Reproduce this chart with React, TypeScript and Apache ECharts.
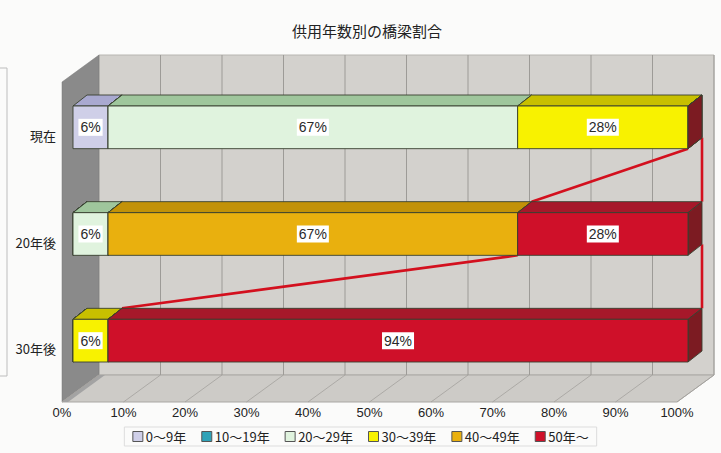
import { useEffect, useRef } from 'react';
import * as echarts from 'echarts';

// ---- data ----
const chartTitle = '供用年数別の橋梁割合';
const categories = ['現在', '20年後', '30年後'];
const ageGroups = ['0～9年', '10～19年', '20～29年', '30～39年', '40～49年', '50年～'];
const age0to9 = [5.7, 0, 0];
const age10to19 = [0, 0, 0];
const age20to29 = [66.6, 5.7, 0];
const age30to39 = [27.7, 0, 5.7];
const age40to49 = [0, 66.6, 0];
const age50plus = [0, 27.7, 94.3];
const xTicks = [0, 10, 20, 30, 40, 50, 60, 70, 80, 90, 100];

const groupValues = [age0to9, age10to19, age20to29, age30to39, age40to49, age50plus];

// face colours per age group: front, top, right side
const palette = [
  { front: '#cfcfe8', top: '#a9a9d0', side: '#8a8ab0' },
  { front: '#2fa3b8', top: '#237f90', side: '#1a6070' },
  { front: '#e0f3de', top: '#9fc69c', side: '#7fa07d' },
  { front: '#f8f200', top: '#c8c000', side: '#9a9400' },
  { front: '#e9b00e', top: '#c29208', side: '#8f6c06' },
  { front: '#cf1029', top: '#a6182a', side: '#7c1b22' },
];

// pseudo-3D geometry (pixels)
const BOX_DEPTH = [37, -27];
const BAR_OFFSET = [11, -8];
const BAR_DEPTH = [14, -11];
const BAR_RATIO = 0.4;
const EDGE = '#38402f';
const SERIES_LINE = '#d3101e';

const NUM_FONT = '"Liberation Sans Narrow", "Liberation Sans", sans-serif';
const JP_FONT = '"Noto Sans CJK JP", sans-serif';

// cumulative start of each group's segment per category
const starts: number[][] = groupValues.map((_, g) =>
  categories.map((__, c) => {
    let s = 0;
    for (let k = 0; k < g; k++) s += groupValues[k][c];
    return s;
  })
);

export default function App() {
  const ref = useRef<HTMLDivElement>(null);

  useEffect(() => {
    if (!ref.current) return;
    const chart = echarts.init(ref.current, null, { renderer: 'svg' });

    const barGeom = (api: any, value: number, cat: number) => {
      const p = api.coord([value, cat]);
      const band = api.size([0, 1])[1];
      const h = band * BAR_RATIO;
      const x = p[0] + BAR_OFFSET[0];
      const yc = p[1] + BAR_OFFSET[1];
      return { x, yc, y0: yc - h / 2, y1: yc + h / 2 };
    };

    // walls and floor of the plot box
    const frameSeries: any = {
      type: 'custom',
      name: 'frame',
      silent: true,
      z: 1,
      data: [[0, 0]],
      encode: { x: 0, y: 1 },
      renderItem: (params: any, api: any) => {
        const band = api.size([0, 1])[1];
        const top = api.coord([0, 0])[1] - band / 2;
        const bottom = api.coord([0, categories.length - 1])[1] + band / 2;
        const left = api.coord([0, 0])[0];
        const right = api.coord([100, 0])[0];
        const dx = BOX_DEPTH[0];
        const dy = BOX_DEPTH[1];
        const children: any[] = [];
        // back wall
        children.push({
          type: 'rect',
          shape: { x: left + dx, y: top + dy, width: right - left, height: bottom - top },
          style: { fill: '#d3d1cd', stroke: '#b8b6b2', lineWidth: 1 },
        });
        // left wall
        children.push({
          type: 'polygon',
          shape: { points: [[left, top], [left + dx, top + dy], [left + dx, bottom + dy], [left, bottom]] },
          style: { fill: '#8a8a8a', stroke: '#777', lineWidth: 0.5 },
        });
        // floor
        children.push({
          type: 'polygon',
          shape: { points: [[left, bottom], [right, bottom], [right + dx, bottom + dy], [left + dx, bottom + dy]] },
          style: { fill: '#cdcbc7', stroke: '#a9a7a3', lineWidth: 1 },
        });
        // floor strip along the left wall, slightly darker
        children.push({
          type: 'polygon',
          shape: { points: [[left, bottom], [left + dx, bottom + dy], [left + dx + 6, bottom + dy], [left + 6, bottom]] },
          style: { fill: '#a3a3a3' },
        });
        xTicks.forEach((t) => {
          const x = api.coord([t, 0])[0];
          if (t > 0) {
            children.push({
              type: 'line',
              shape: { x1: x + dx, y1: top + dy, x2: x + dx, y2: bottom + dy },
              style: { stroke: '#9d9b97', lineWidth: 1 },
            });
          }
          children.push({
            type: 'line',
            shape: { x1: x, y1: bottom, x2: x + dx, y2: bottom + dy },
            style: { stroke: '#a3a19d', lineWidth: 0.8 },
          });
        });
        return { type: 'group', children };
      },
    };

    // series lines for the oldest group: start boundary and end boundary
    const lastStarts = starts[5];
    const lineData: number[][] = [];
    for (let c = 0; c < categories.length - 1; c++) {
      lineData.push([lastStarts[c], c, lastStarts[c + 1], c + 1, 0]);
      lineData.push([
        lastStarts[c] + age50plus[c], c,
        lastStarts[c + 1] + age50plus[c + 1], c + 1, 1,
      ]);
    }
    const seriesLines: any = {
      type: 'custom',
      name: 'series-lines',
      silent: true,
      z: 2,
      data: lineData,
      encode: { x: [0, 2], y: [1, 3] },
      renderItem: (params: any, api: any) => {
        const a = barGeom(api, api.value(0), api.value(1));
        const b = barGeom(api, api.value(2), api.value(3));
        const mode = api.value(4);
        const x1 = mode === 0 ? a.x : a.x + BAR_DEPTH[0];
        const y1 = mode === 0 ? a.y1 : a.y1 + BAR_DEPTH[1];
        const x2 = b.x + BAR_DEPTH[0];
        const y2 = b.y0 + BAR_DEPTH[1];
        return {
          type: 'line',
          shape: { x1, y1, x2, y2 },
          style: { stroke: SERIES_LINE, lineWidth: 2.6 },
        };
      },
    };

    const barSeries = ageGroups.map((name, g) => ({
      type: 'custom',
      name,
      z: 3,
      itemStyle: { color: palette[g].front, borderColor: '#555', borderWidth: 1 },
      data: categories.map((_, c) => [starts[g][c], groupValues[g][c], c]),
      encode: { x: 0, y: 2 },
      renderItem: (params: any, api: any) => {
        const start = api.value(0);
        const val = api.value(1);
        const cat = api.value(2);
        const a = barGeom(api, start, cat);
        const b = barGeom(api, start + val, cat);
        const x0 = a.x;
        const x1 = b.x;
        const { y0, y1, yc } = a;
        const [dx, dy] = BAR_DEPTH;
        const col = palette[g];
        const children: any[] = [
          {
            type: 'polygon',
            shape: { points: [[x0, y0], [x1, y0], [x1 + dx, y0 + dy], [x0 + dx, y0 + dy]] },
            style: { fill: col.top, stroke: EDGE, lineWidth: 0.9 },
          },
          {
            type: 'polygon',
            shape: { points: [[x1, y0], [x1 + dx, y0 + dy], [x1 + dx, y1 + dy], [x1, y1]] },
            style: { fill: col.side, stroke: EDGE, lineWidth: 0.9 },
          },
        ];
        if (val > 0) {
          children.push({
            type: 'rect',
            shape: { x: x0, y: y0, width: x1 - x0, height: y1 - y0 },
            style: { fill: col.front, stroke: EDGE, lineWidth: 0.9 },
          });
          children.push({
            type: 'text',
            style: {
              text: Math.round(val) + '%',
              x: (x0 + x1) / 2,
              y: yc,
              align: 'center',
              verticalAlign: 'middle',
              fontSize: 14,
              fontFamily: NUM_FONT,
              fill: '#2a2a2a',
              backgroundColor: '#ffffff',
              padding: [2, 2, 1, 2],
            },
          });
        }
        return { type: 'group', children };
      },
    }));

    chart.setOption({
      animation: false,
      backgroundColor: '#fbfbfa',
      title: {
        text: chartTitle,
        left: 362,
        top: 18,
        textAlign: 'center',
        textStyle: { fontSize: 15, fontWeight: 'normal', color: '#222', fontFamily: JP_FONT },
      },
      grid: { left: 62, top: 82, width: 615, height: 320, containLabel: false },
      xAxis: {
        type: 'value',
        min: 0,
        max: 100,
        interval: 10,
        axisLine: { show: false },
        axisTick: { show: false },
        splitLine: { show: false },
        axisLabel: {
          formatter: '{value}%',
          margin: 4,
          fontSize: 13,
          color: '#222',
          fontFamily: NUM_FONT,
        },
      },
      yAxis: {
        type: 'category',
        inverse: true,
        data: categories,
        axisLine: { show: false },
        axisTick: { show: false },
        splitLine: { show: false },
        axisLabel: { margin: 6, fontSize: 13, color: '#222', fontFamily: JP_FONT },
      },
      legend: {
        data: ageGroups,
        left: 'center',
        top: 427,
        itemWidth: 10,
        itemHeight: 10,
        itemGap: 15,
        icon: 'rect',
        padding: [3, 8],
        borderColor: '#dddddd',
        borderWidth: 1,
        selectedMode: false,
        itemStyle: { borderColor: '#555', borderWidth: 1 },
        textStyle: { fontSize: 13, color: '#222', fontFamily: JP_FONT, padding: [0, 0, 0, -2] },
      },
      graphic: [
        {
          type: 'rect',
          silent: true,
          shape: { x: -20, y: 68, width: 27, height: 308 },
          style: { fill: 'none', stroke: '#bdbdbd', lineWidth: 1 },
        },
      ],
      series: [frameSeries, seriesLines, ...barSeries],
    });

    return () => chart.dispose();
  }, []);

  return (
    <div
      ref={ref}
      style={{ position: 'fixed', left: 0, top: 0, width: 721, height: 453 }}
    />
  );
}
